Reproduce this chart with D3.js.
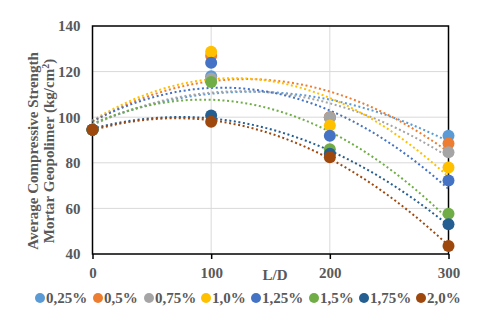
<!DOCTYPE html>
<html>
<head>
<meta charset="utf-8">
<script src="https://cdn.jsdelivr.net/npm/d3@7"></script>
<style>
  body { margin: 0; background: #fff; }
  text { font-family: "Liberation Serif", "Times New Roman", serif; font-weight: bold; fill: #595959; }
</style>
</head>
<body>
<script>
// L/D values on the x axis
var ld = [0, 100, 200, 300];
var seriesNames = ["0,25%", "0,5%", "0,75%", "1,0%", "1,25%", "1,5%", "1,75%", "2,0%"];
// average compressive strength (kg/cm2), one array per fibre content
var s025 = [94.5, 118.0, 100.0, 91.9];
var s05  = [94.5, 127.0, 100.0, 88.5];
var s075 = [94.5, 117.0, 99.9, 84.6];
var s10  = [94.5, 128.7, 96.4, 77.9];
var s125 = [94.5, 123.9, 91.9, 72.2];
var s15  = [94.5, 115.4, 85.9, 57.7];
var s175 = [94.5, 100.8, 84.0, 53.0];
var s20  = [94.5, 98.0, 82.4, 43.5];
var yTicks = [40, 60, 80, 100, 120, 140];
var xTicks = [0, 100, 200, 300];

var values = [s025, s05, s075, s10, s125, s15, s175, s20];
var colors = ["#5B9BD5", "#ED7D31", "#A5A5A5", "#FFC000", "#4472C4", "#70AD47", "#255E91", "#9E480E"];

var w = 480, h = 322;
var plotLeft = 92.5, plotRight = 448.5, plotTop = 26, plotBottom = 254;

var x = d3.scaleLinear().domain([0, 300]).range([plotLeft, plotRight]);
var y = d3.scaleLinear().domain([40, 140]).range([plotBottom, plotTop]);

// 2nd order polynomial trendline (least squares), like excel
function polyFit(xs, ys) {
  var n = xs.length, sx = 0, sx2 = 0, sx3 = 0, sx4 = 0, sy = 0, sxy = 0, sx2y = 0;
  for (var i = 0; i < n; i++) {
    var a = xs[i], b = ys[i];
    sx += a; sx2 += a * a; sx3 += a * a * a; sx4 += a * a * a * a;
    sy += b; sxy += a * b; sx2y += a * a * b;
  }
  var m = [[n, sx, sx2, sy], [sx, sx2, sx3, sxy], [sx2, sx3, sx4, sx2y]];
  for (var c = 0; c < 3; c++) {
    for (var r = c + 1; r < 3; r++) {
      var f = m[r][c] / m[c][c];
      for (var k = c; k < 4; k++) m[r][k] -= f * m[c][k];
    }
  }
  var coef = [0, 0, 0];
  for (var r = 2; r >= 0; r--) {
    var s = m[r][3];
    for (var k = r + 1; k < 3; k++) s -= m[r][k] * coef[k];
    coef[r] = s / m[r][r];
  }
  return function(t) { return coef[0] + coef[1] * t + coef[2] * t * t; };
}

var svg = d3.select("body").append("svg")
  .attr("width", w)
  .attr("height", h);

// gridlines
svg.append("g").selectAll("line")
  .data(yTicks.filter(function(d) { return d > 40 && d < 140; }))
  .enter().append("line")
  .attr("x1", plotLeft).attr("x2", plotRight)
  .attr("y1", function(d) { return y(d); }).attr("y2", function(d) { return y(d); })
  .attr("stroke", "#d9d9d9").attr("stroke-width", 1);

svg.append("g").selectAll("line")
  .data(xTicks.filter(function(d) { return d > 0 && d < 300; }))
  .enter().append("line")
  .attr("x1", function(d) { return x(d); }).attr("x2", function(d) { return x(d); })
  .attr("y1", plotTop).attr("y2", plotBottom)
  .attr("stroke", "#d9d9d9").attr("stroke-width", 1);

// plot border
svg.append("rect")
  .attr("x", plotLeft).attr("y", plotTop)
  .attr("width", plotRight - plotLeft).attr("height", plotBottom - plotTop)
  .attr("fill", "none").attr("stroke", "#000").attr("stroke-width", 1.5);

// axes
var yAxis = svg.append("g")
  .attr("transform", "translate(" + plotLeft + ",0)")
  .call(d3.axisLeft(y).tickValues(yTicks).tickSize(0).tickPadding(12));
var xAxis = svg.append("g")
  .attr("transform", "translate(0," + plotBottom + ")")
  .call(d3.axisBottom(x).tickValues(xTicks).tickSize(5).tickPadding(8));
[yAxis, xAxis].forEach(function(a) {
  a.select(".domain").remove();
  a.selectAll("text").style("font-size", "15px").attr("fill", "#595959");
  a.selectAll("line").attr("stroke", "#000").attr("stroke-width", 1.5);
});

// trendlines
var line = d3.line()
  .x(function(d) { return x(d[0]); })
  .y(function(d) { return y(d[1]); });

values.forEach(function(vals, i) {
  var fit = polyFit(ld, vals);
  var pts = d3.range(0, 301, 5).map(function(t) { return [t, fit(t)]; });
  svg.append("path")
    .datum(pts)
    .attr("d", line)
    .attr("fill", "none")
    .attr("stroke", colors[i])
    .attr("stroke-width", 2)
    .attr("stroke-dasharray", "2,2.6");
});

// markers
values.forEach(function(vals, i) {
  svg.append("g").selectAll("circle")
    .data(vals)
    .enter().append("circle")
    .attr("cx", function(d, j) { return x(ld[j]); })
    .attr("cy", function(d) { return y(d); })
    .attr("r", 6)
    .attr("fill", colors[i]);
});

// axis titles
svg.append("text")
  .attr("x", 275).attr("y", 280)
  .attr("text-anchor", "middle")
  .style("font-size", "15px")
  .text("L/D");

var yt = svg.append("text")
  .attr("transform", "translate(38,151) rotate(-90)")
  .attr("text-anchor", "middle")
  .style("font-size", "15px");
yt.append("tspan").attr("x", 0).attr("dy", 0).text("Average Compressive Strength");
yt.append("tspan").attr("x", 0).attr("dy", 16).text("Mortar Geopolimer (kg/cm");
yt.append("tspan").attr("dy", -5).style("font-size", "10px").text("2");
yt.append("tspan").attr("dy", 5).text(")");

// legend
var legendX = [40, 98, 149, 206, 256, 314, 364, 421];
var legend = svg.append("g").selectAll("g")
  .data(seriesNames)
  .enter().append("g")
  .attr("transform", function(d, i) { return "translate(" + legendX[i] + ",298)"; });
legend.append("circle").attr("r", 5).attr("fill", function(d, i) { return colors[i]; });
legend.append("text")
  .attr("x", 6).attr("dy", "0.35em")
  .style("font-size", "15px")
  .text(function(d) { return d; });
</script>
</body>
</html>
